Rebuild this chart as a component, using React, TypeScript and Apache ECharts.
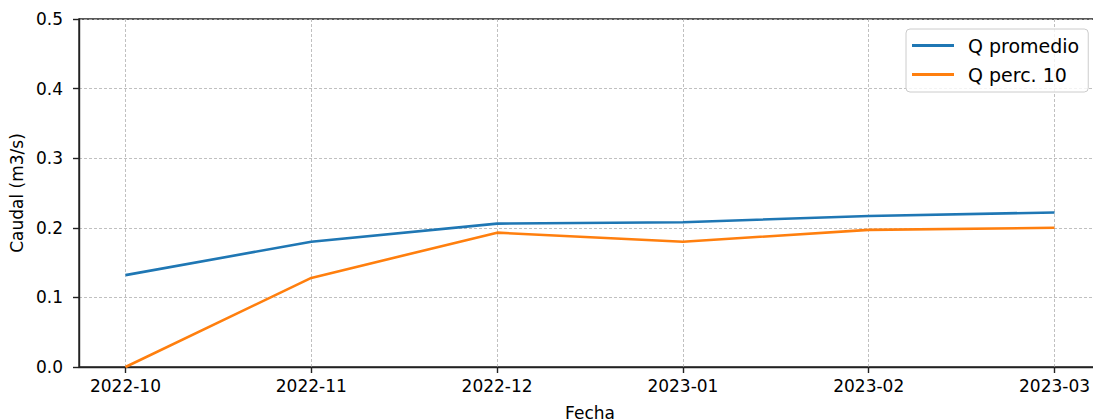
import React, { useEffect, useRef } from "react";
import * as echarts from "echarts";

const categories = ["2022-10", "2022-11", "2022-12", "2023-01", "2023-02", "2023-03"];
const qPromedio = [0.132, 0.18, 0.206, 0.208, 0.217, 0.222];
const qPerc10 = [0.0, 0.128, 0.193, 0.18, 0.197, 0.2];
const yTicks = [0, 0.1, 0.2, 0.3, 0.4, 0.5];

const FONT = "DejaVu Sans";

export default function App() {
  const ref = useRef<HTMLDivElement>(null);
  useEffect(() => {
    if (!ref.current) return;
    const chart = echarts.init(ref.current, null, { renderer: "svg" });
    const idx = categories.map((_, i) => i);
    const gridLine = { show: true, lineStyle: { color: "#b0b0b0", width: 0.8, type: [3, 2] as any } };
    chart.setOption({
      animation: false,
      textStyle: { fontFamily: FONT },
      grid: {
        left: 79,
        top: 19,
        right: -8,
        bottom: 52,
        containLabel: false,
        outerBoundsMode: "none",
        show: true,
        borderColor: "#222",
        borderWidth: 1.4,
        backgroundColor: "transparent",
      },
      legend: {
        orient: "vertical",
        left: 906,
        top: 29,
        padding: [7, 9, 8, 6],
        itemGap: 10,
        itemWidth: 42,
        itemHeight: 3,
        icon: "rect",
        borderColor: "#cccccc",
        borderWidth: 1,
        borderRadius: 4,
        backgroundColor: "rgba(255,255,255,0.8)",
        textStyle: { fontFamily: FONT, fontSize: 19, color: "#000", padding: [0, 0, 0, 9] },
        data: ["Q promedio", "Q perc. 10"],
      },
      xAxis: {
        type: "value",
        min: -0.25,
        max: 5.25,
        name: "Fecha",
        nameLocation: "middle",
        nameGap: 37,
        nameTextStyle: { fontFamily: FONT, fontSize: 17, color: "#000" },
        axisLine: { show: true, onZero: false, lineStyle: { color: "#222", width: 1.4 } },
        axisTick: { show: true, length: 6, customValues: idx, lineStyle: { color: "#222", width: 1.4 } },
        axisLabel: {
          customValues: idx,
          margin: 10,
          fontSize: 17,
          color: "#000",
          fontFamily: FONT,
          formatter: (v: number) => categories[Math.round(v)] ?? "",
        },
        splitLine: gridLine,
      },
      yAxis: {
        type: "value",
        min: 0,
        max: 0.5,
        interval: 0.1,
        name: "Caudal (m3/s)",
        nameLocation: "middle",
        nameGap: 50,
        nameTextStyle: { fontFamily: FONT, fontSize: 17, color: "#000" },
        axisLine: { show: true, onZero: false, lineStyle: { color: "#222", width: 1.4 } },
        axisTick: { show: true, length: 6, lineStyle: { color: "#222", width: 1.4 } },
        axisLabel: {
          margin: 16,
          fontSize: 17,
          color: "#000",
          fontFamily: FONT,
          formatter: (v: number) => v.toFixed(1),
          customValues: yTicks,
        },
        splitLine: gridLine,
      },
      series: [
        {
          name: "Q promedio",
          type: "line",
          data: qPromedio.map((v, i) => [i, v]),
          showSymbol: false,
          symbol: "none",
          lineStyle: { color: "#1f77b4", width: 2.6 },
          itemStyle: { color: "#1f77b4" },
        },
        {
          name: "Q perc. 10",
          type: "line",
          data: qPerc10.map((v, i) => [i, v]),
          showSymbol: false,
          symbol: "none",
          lineStyle: { color: "#ff7f0e", width: 2.6 },
          itemStyle: { color: "#ff7f0e" },
        },
      ],
    });
    return () => chart.dispose();
  }, []);
  return <div ref={ref} style={{ width: 1093, height: 419, position: "absolute", left: 0, top: 0, background: "#fff" }} />;
}
